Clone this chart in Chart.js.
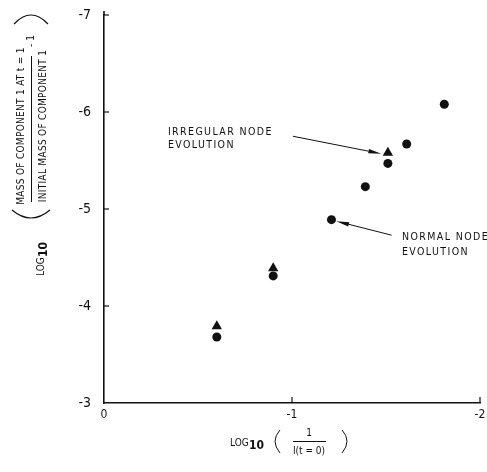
<!DOCTYPE html>
<html>
<head>
<meta charset="utf-8">
<script src="https://cdn.jsdelivr.net/npm/chart.js@4"></script>
<style>
  body { margin: 0; background: #fff; }
  canvas { display: block; }
</style>
</head>
<body>
<canvas id="nodeChart" width="487" height="472"></canvas>
<script>
// values
const xTicks = [0, -1, -2];
const yTicks = [-3, -4, -5, -6, -7];
const normalX = [-0.60, -0.90, -1.21, -1.39, -1.51, -1.61, -1.81];
const normalY = [-3.68, -4.31, -4.89, -5.23, -5.47, -5.67, -6.08];
const irregularX = [-0.60, -0.90, -1.51];
const irregularY = [-3.79, -4.39, -5.58];

const FONT = "'DejaVu Sans Condensed', 'DejaVu Sans', sans-serif";
const INK = "#111";

function toPoints(xs, ys) {
  return xs.map((v, i) => ({ x: v, y: ys[i] }));
}

function tickLabel(v) {
  return v === 0 ? "0" : "-" + Math.abs(v);
}

function arrow(ctx, x1, y1, x2, y2) {
  const ang = Math.atan2(y2 - y1, x2 - x1);
  const len = 13, half = 2.2;
  ctx.beginPath();
  ctx.moveTo(x1, y1);
  ctx.lineTo(x2 - Math.cos(ang) * len, y2 - Math.sin(ang) * len);
  ctx.lineWidth = 1;
  ctx.stroke();
  ctx.beginPath();
  ctx.moveTo(x2, y2);
  ctx.lineTo(x2 - Math.cos(ang) * len - Math.sin(ang) * half, y2 - Math.sin(ang) * len + Math.cos(ang) * half);
  ctx.lineTo(x2 - Math.cos(ang) * len + Math.sin(ang) * half, y2 - Math.sin(ang) * len - Math.cos(ang) * half);
  ctx.closePath();
  ctx.fill();
}

function curve(ctx, x1, y1, cx, cy, x2, y2) {
  ctx.beginPath();
  ctx.moveTo(x1, y1);
  ctx.quadraticCurveTo(cx, cy, x2, y2);
  ctx.stroke();
}

// inward tick marks, arrows, labels and axis titles
const decorations = {
  id: "decorations",
  afterDraw(chart) {
    const { ctx, scales: { x, y } } = chart;
    ctx.save();
    ctx.strokeStyle = INK;
    ctx.fillStyle = INK;

    // ticks pointing into the plot
    ctx.lineWidth = 1.2;
    yTicks.forEach((v) => {
      if (v === -3) return;
      const py = y.getPixelForValue(v);
      ctx.beginPath();
      ctx.moveTo(x.left, py);
      ctx.lineTo(x.left + 5, py);
      ctx.stroke();
    });
    xTicks.forEach((v) => {
      if (v === 0) return;
      const px = x.getPixelForValue(v);
      ctx.beginPath();
      ctx.moveTo(px, y.bottom);
      ctx.lineTo(px, y.bottom - 6);
      ctx.stroke();
    });
    // axis runs a little past the last tick
    ctx.lineWidth = 1.6;
    ctx.beginPath();
    ctx.moveTo(x.left, y.top);
    ctx.lineTo(x.left, y.top - 4);
    ctx.stroke();

    // annotations
    ctx.font = "10.5px " + FONT;
    ctx.letterSpacing = "1.4px";
    ctx.textAlign = "left";
    ctx.textBaseline = "middle";
    ctx.fillText("IRREGULAR NODE", x.getPixelForValue(-0.34), y.getPixelForValue(-5.79));
    ctx.fillText("EVOLUTION", x.getPixelForValue(-0.34), y.getPixelForValue(-5.66));
    ctx.fillText("NORMAL NODE", x.getPixelForValue(-1.585), y.getPixelForValue(-4.71));
    ctx.fillText("EVOLUTION", x.getPixelForValue(-1.585), y.getPixelForValue(-4.55));
    arrow(ctx, x.getPixelForValue(-1.005), y.getPixelForValue(-5.75),
      x.getPixelForValue(-1.475), y.getPixelForValue(-5.57));
    arrow(ctx, x.getPixelForValue(-1.53), y.getPixelForValue(-4.73),
      x.getPixelForValue(-1.235), y.getPixelForValue(-4.875));

    // x axis title
    ctx.letterSpacing = "0px";
    ctx.font = "10px " + FONT;
    ctx.fillText("LOG", 230, 443);
    ctx.font = "bold 12px " + FONT;
    ctx.fillText("10", 249, 446);
    ctx.textAlign = "center";
    ctx.font = "10px " + FONT;
    ctx.fillText("1", 309, 433);
    ctx.fillText("I(t = 0)", 309, 451);
    ctx.lineWidth = 1;
    ctx.beginPath();
    ctx.moveTo(293, 441.5);
    ctx.lineTo(326, 441.5);
    ctx.stroke();
    curve(ctx, 280, 430, 270, 441, 280, 453);
    curve(ctx, 342, 430, 352, 441, 342, 453);

    // y axis title, rotated
    ctx.save();
    ctx.rotate(-Math.PI / 2);
    ctx.textAlign = "left";
    ctx.font = "10px " + FONT;
    ctx.fillText("LOG", -276, 41);
    ctx.font = "bold 12px " + FONT;
    ctx.fillText("10", -257, 44);
    ctx.textAlign = "center";
    ctx.font = "10px " + FONT;
    ctx.letterSpacing = "0.3px";
    ctx.fillText("MASS OF COMPONENT 1 AT t = 1", -126, 21);
    ctx.fillText("INITIAL MASS OF COMPONENT 1", -126, 43);
    ctx.letterSpacing = "0px";
    ctx.fillText("- 1", -41, 31);
    ctx.lineWidth = 1;
    ctx.beginPath();
    ctx.moveTo(-202, 31.5);
    ctx.lineTo(-56, 31.5);
    ctx.stroke();
    ctx.restore();

    // big brackets round the fraction
    ctx.lineWidth = 1.2;
    curve(ctx, 12, 210, 31, 226, 50, 210);
    curve(ctx, 14, 24, 31, 6, 48, 24);

    ctx.restore();
  },
};

const nodeCtx = document.getElementById("nodeChart").getContext("2d");
new Chart(nodeCtx, {
  type: "scatter",
  data: {
    datasets: [
      {
        label: "Normal node evolution",
        data: toPoints(normalX, normalY),
        pointStyle: "circle",
        pointRadius: 4.5,
        backgroundColor: INK,
        borderColor: INK,
        borderWidth: 0,
      },
      {
        label: "Irregular node evolution",
        data: toPoints(irregularX, irregularY),
        pointStyle: "triangle",
        pointRadius: 6,
        backgroundColor: INK,
        borderColor: INK,
        borderWidth: 0,
      },
    ],
  },
  options: {
    responsive: false,
    animation: false,
    layout: { padding: { top: 15, right: 7, left: 0, bottom: 0 } },
    plugins: {
      legend: { display: false },
      tooltip: { enabled: false },
    },
    scales: {
      x: {
        type: "linear",
        min: -2,
        max: 0,
        reverse: true,
        afterFit: (scale) => { scale.height = 69; },
        afterBuildTicks: (scale) => { scale.ticks = xTicks.map((v) => ({ value: v })); },
        grid: { display: false },
        border: { display: true, color: INK, width: 1.6 },
        ticks: {
          color: INK,
          padding: -3,
          font: { family: FONT, size: 12 },
          callback: tickLabel,
        },
      },
      y: {
        type: "linear",
        min: -7,
        max: -3,
        reverse: true,
        afterFit: (scale) => { scale.width = 104; },
        afterBuildTicks: (scale) => { scale.ticks = yTicks.map((v) => ({ value: v })); },
        grid: { display: false },
        border: { display: true, color: INK, width: 1.6 },
        ticks: {
          color: INK,
          padding: 5,
          font: { family: FONT, size: 14 },
          callback: tickLabel,
        },
      },
    },
  },
  plugins: [decorations],
});
</script>
</body>
</html>
